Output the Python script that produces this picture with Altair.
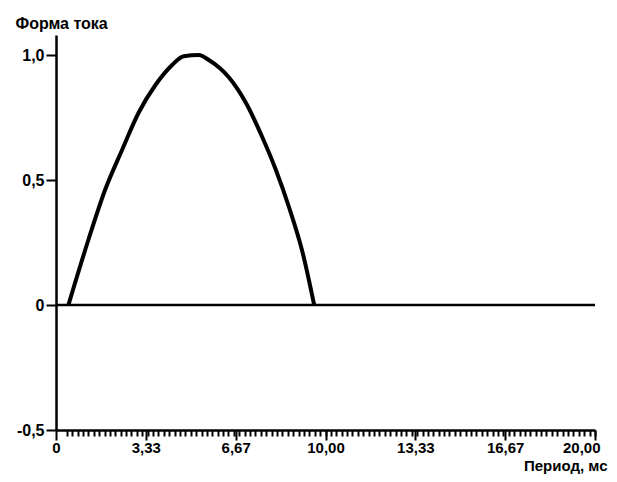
import altair as alt
import pandas as pd

# Current waveform
curve_x = [0.46, 1.20, 1.82, 2.45, 3.07, 3.69, 4.31, 4.74, 5.30, 5.67, 6.42, 7.04, 7.66, 8.16, 8.65, 9.15, 9.58]
curve_y = [0.0, 0.26, 0.46, 0.62, 0.77, 0.88, 0.96, 0.995, 1.0, 0.98, 0.91, 0.81, 0.67, 0.54, 0.39, 0.21, 0.0]

# Zero line
base_x = [0, 20]
base_y = [0, 0]

# Axis ticks / labels
x_major = [0, 10 / 3, 20 / 3, 10, 40 / 3, 50 / 3, 20]
x_labels = ["0", "3,33", "6,67", "10,00", "13,33", "16,67", "20,00"]
x_minor = [round(0.4 + 0.2 * i, 2) for i in range(99)]
y_ticks = [-0.5, 0, 0.5, 1.0]
y_labels = ["-0,5", "0", "0,5", "1,0"]

FONT = "Liberation Sans"

curve_df = pd.DataFrame({"t": curve_x, "v": curve_y})
base_df = pd.DataFrame({"t": base_x, "v": base_y})

x_label_expr = "[" + ",".join("'%s'" % s for s in x_labels) + "][round(datum.value*0.3)]"
y_label_expr = "[" + ",".join("'%s'" % s for s in y_labels) + "][round((datum.value+0.5)*2)]"

y_enc = alt.Y(
    "v:Q",
    scale=alt.Scale(domain=[-0.5, 1.08], nice=False, zero=False),
    axis=alt.Axis(
        values=y_ticks,
        labelExpr=y_label_expr,
        grid=False,
        tickSize=10,
        tickWidth=2,
        tickColor="black",
        domainColor="black",
        domainWidth=2.5,
        labelPadding=2,
        labelFont=FONT,
        labelFontWeight="bold",
        labelFontSize=16,
        labelColor="black",
        title="Форма тока",
        titleAngle=0,
        titleAlign="left",
        titleBaseline="middle",
        titleX=-41,
        titleY=-12,
        titleFont=FONT,
        titleFontWeight="bold",
        titleFontSize=16,
        titleColor="black",
    ),
)

curve = alt.Chart(curve_df).mark_line(
    color="black", strokeWidth=4, interpolate="monotone"
).encode(
    x=alt.X(
        "t:Q",
        scale=alt.Scale(domain=[0, 20], nice=False),
        axis=alt.Axis(
            orient="bottom",
            values=x_major,
            labelExpr=x_label_expr,
            grid=False,
            tickSize=10,
            tickWidth=2,
            tickColor="black",
            domainColor="black",
            domainWidth=2.5,
            labelPadding=0,
            labelFont=FONT,
            labelFontWeight="bold",
            labelFontSize=15,
            labelColor="black",
            labelFlush=False,
            labelAlign={"condition": {"test": "datum.value >= 19.9", "value": "right"}, "value": "center"},
            labelOffset={"condition": {"test": "datum.value >= 19.9", "value": 5}, "value": 0},
            title="Период, мс",
            titleAlign="right",
            titleBaseline="middle",
            titleX=551,
            titleY=35,
            titleFont=FONT,
            titleFontWeight="bold",
            titleFontSize=15,
            titleColor="black",
        ),
    ),
    y=y_enc,
)

base = alt.Chart(base_df).mark_line(color="black", strokeWidth=2.5).encode(
    x=alt.X(
        "t:Q",
        scale=alt.Scale(domain=[0, 20], nice=False),
        axis=alt.Axis(
            orient="bottom",
            values=x_minor,
            labels=False,
            domain=False,
            grid=False,
            tickSize=6,
            tickWidth=2,
            tickColor="black",
            title=None,
        ),
    ),
    y=alt.Y("v:Q"),
)

chart = (
    alt.layer(curve, base)
    .resolve_scale(x="independent")
    .resolve_axis(x="independent")
    .properties(
        width=539,
        height=395,
        autosize=alt.AutoSizeParams(type="none"),
        padding={"left": 48, "top": 27, "right": 14, "bottom": 44},
        background="white",
    )
    .configure_view(stroke=None)
)

chart.save("out.html", embed_options={"renderer": "svg", "actions": False})
